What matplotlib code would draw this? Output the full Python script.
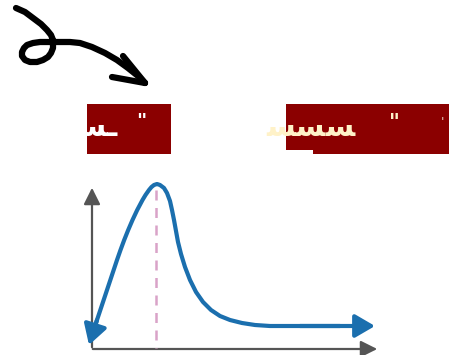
import matplotlib.pyplot as plt
from matplotlib.patches import Rectangle, FancyArrowPatch

plt.rcParams['font.family'] = ['DejaVu Sans']

# curly arrow stroke, read in pixel coords
swirl_x = [16, 25, 33, 41, 47, 51, 53, 53, 51, 48, 43, 37, 30, 25, 22, 22, 24, 27, 33, 40, 50, 60, 70, 80, 92, 105, 117, 128, 138, 145]
swirl_y = [8, 12, 18, 24, 30, 35, 40, 48, 53, 57, 60, 62, 62, 60, 56, 52, 48, 45, 43, 42, 42, 42, 42, 43, 47, 53, 60, 68, 76, 83]
swirl_head_left = (123, 56)
swirl_head_right = (112, 77)

# curve drawn in the graph
curve_x = [89, 93, 97, 102, 107, 112, 117, 120.5, 124.2, 128.2, 132.5, 137.2, 142.5, 145.5, 149,
           151.5, 154, 157, 160, 164, 167, 170, 172, 174, 176, 178, 181, 185, 190, 196, 203,
           211, 220, 230, 242, 255, 270, 300, 340, 372]
curve_y = [345, 333, 320, 305, 290, 275, 260, 250, 240, 230, 220, 210, 200, 195, 190,
           187, 185, 184, 185, 188, 193, 201, 210, 220, 231, 242, 254, 267, 280, 292, 302,
           310, 316, 320, 323, 325, 326, 326, 326, 326]
peak_x = 156

boxes = [(87, 104, 84, 50), (286, 104, 163, 50)]
box_text = ["ﺴﺴﺴـ", "ﺴﺴﺴ"]

fig = plt.figure(figsize=(4.49, 3.55), dpi=100)
ax = fig.add_axes([0, 0, 1, 1])
ax.set_xlim(0, 449)
ax.set_ylim(355, 0)
ax.axis("off")

# swirl arrow
ax.plot(swirl_x, swirl_y, color="black", lw=4.5, solid_capstyle="round", solid_joinstyle="round")
for hx, hy in (swirl_head_left, swirl_head_right):
    ax.plot([hx, swirl_x[-1]], [hy, swirl_y[-1]], color="black", lw=4.5, solid_capstyle="round")

# red boxes
for (bx, by, bw, bh) in boxes:
    ax.add_patch(Rectangle((bx, by), bw, bh, color="#8b0000", lw=0))
ax.add_patch(Rectangle((286, 150), 27, 5, color="white", lw=0))

ax.text(118, 128, box_text[0], color="white", fontsize=21, fontweight="bold", ha="right", va="center")
ax.text(141, 122, '"', color="white", fontsize=14, fontweight="bold", ha="center", va="center")
ax.text(355, 128, box_text[1], color="#fff2c8", fontsize=21, fontweight="bold", ha="right", va="center")
ax.text(394, 123, '"', color="#fff2c8", fontsize=15, fontweight="bold", ha="center", va="center")
ax.text(443, 123, "'", color="#e6d0c0", fontsize=9, ha="center", va="center")

# axes of the sketch
ax.add_patch(FancyArrowPatch((92, 350), (92, 185), arrowstyle="-|>,head_length=5,head_width=2.5",
                             color="#555555", lw=1.6, mutation_scale=2))
ax.add_patch(FancyArrowPatch((90, 349), (380, 349), arrowstyle="-|>,head_length=5,head_width=2.5",
                             color="#555555", lw=1.6, mutation_scale=2))

# dashed peak marker
ax.plot([peak_x, peak_x], [190, 348], color="#d9a3c8", lw=1.8, ls=(0, (4, 3)))

# curve
ax.plot(curve_x[1:-1], curve_y[1:-1], color="#1b6fae", lw=3, solid_capstyle="round",
        solid_joinstyle="round")
ax.add_patch(FancyArrowPatch((curve_x[2], curve_y[2]), (curve_x[0], curve_y[0]),
                             arrowstyle="-|>,head_length=6,head_width=3.5", color="#1b6fae",
                             lw=3, mutation_scale=2, shrinkA=0, shrinkB=0))
ax.add_patch(FancyArrowPatch((curve_x[-3], curve_y[-3]), (curve_x[-1] + 3, curve_y[-1]),
                             arrowstyle="-|>,head_length=6,head_width=3.5", color="#1b6fae",
                             lw=3, mutation_scale=2, shrinkA=0, shrinkB=0))

fig.savefig("out.png", dpi=100)
